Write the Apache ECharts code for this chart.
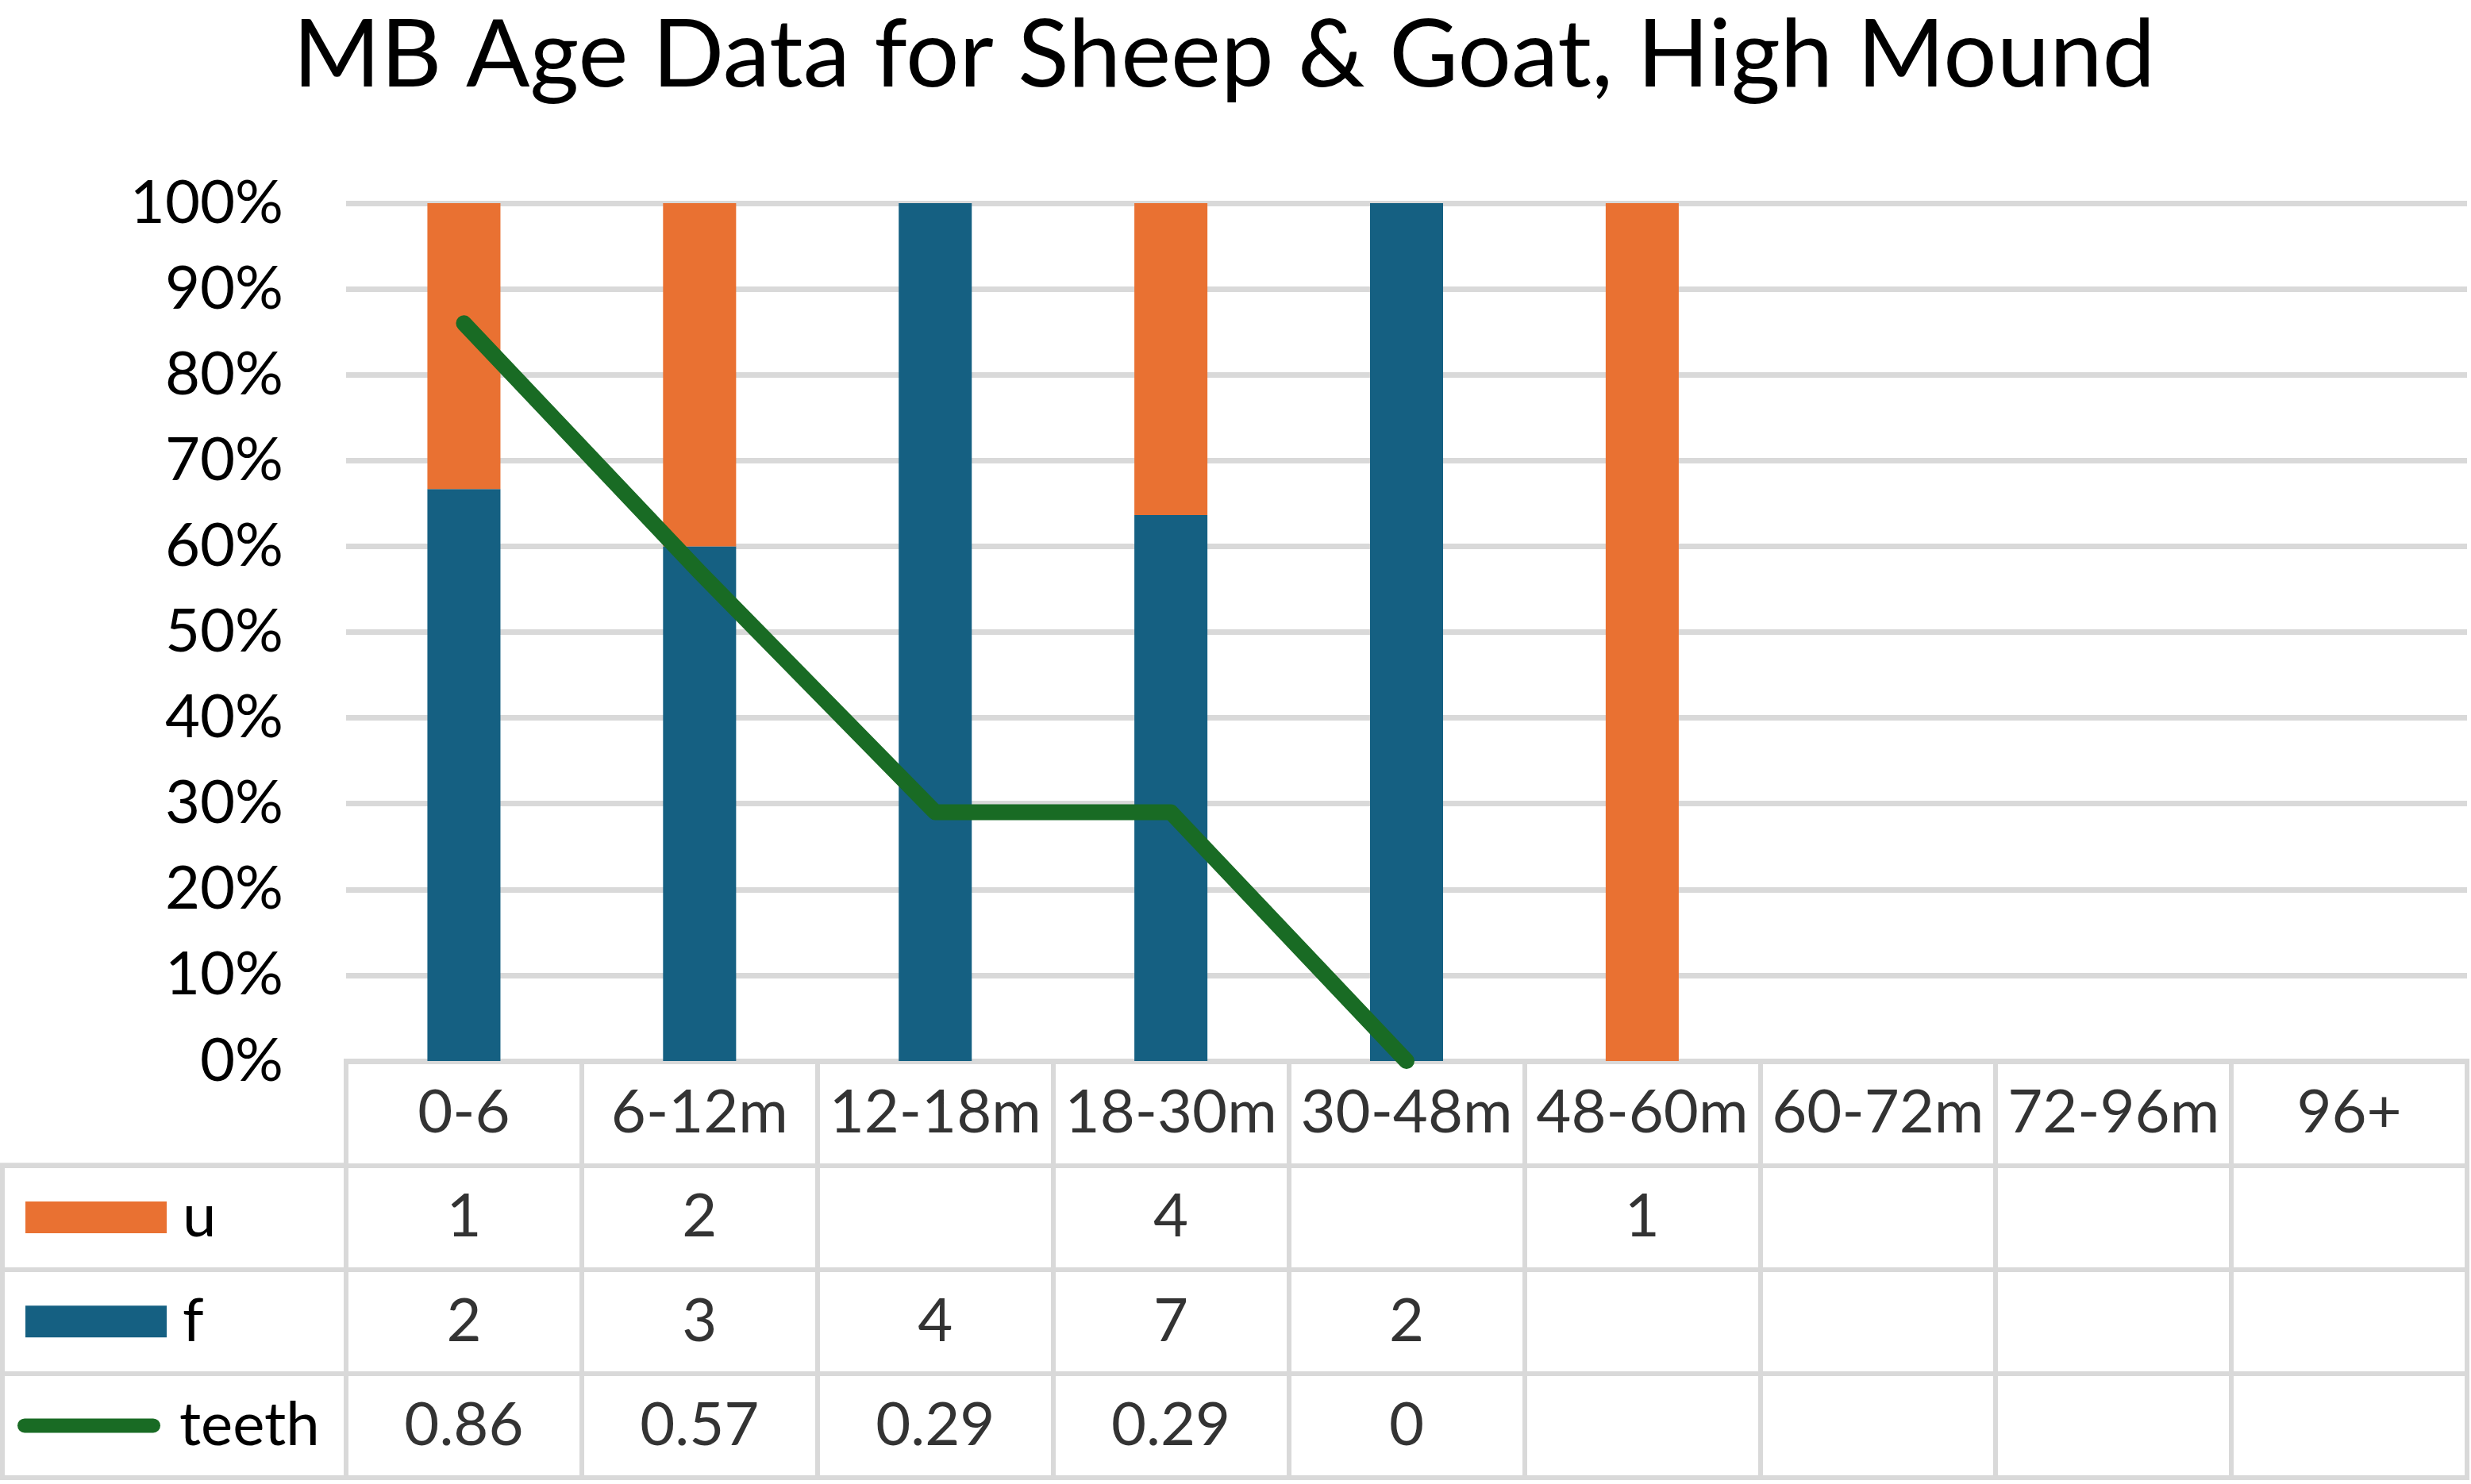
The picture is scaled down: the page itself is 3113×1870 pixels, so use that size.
<!DOCTYPE html>
<html>
<head>
<meta charset="utf-8">
<script src="https://cdn.jsdelivr.net/npm/echarts@6/dist/echarts.min.js"></script>
<style>
  html, body { margin: 0; padding: 0; background: #fff; }
  #chart { width: 3113px; height: 1870px; }
</style>
</head>
<body>
<div id="chart"></div>
<script>
const categories = ['0-6', '6-12m', '12-18m', '18-30m', '30-48m', '48-60m', '60-72m', '72-96m', '96+'];
const uCounts = [1, 2, null, 4, null, 1, null, null, null];
const fCounts = [2, 3, 4, 7, 2, null, null, null, null];
const teeth = [0.86, 0.57, 0.29, 0.29, 0, null, null, null, null];

const ORANGE = '#E97132';
const BLUE = '#156082';
const GREEN = '#196B24';
const GRID_C = '#D9D9D9';
const FONT = 'Lato, "Open Sans", sans-serif';
const FS = 76;

// percent stacked: share of each count in the category total
const total = categories.map((c, i) => (uCounts[i] || 0) + (fCounts[i] || 0));
const uPct = uCounts.map((v, i) => (v == null ? null : v / total[i]));
const fPct = fCounts.map((v, i) => (v == null ? null : v / total[i]));

// table text cells, row y: header 3.5, u 2.5, f 1.5, teeth 0.5
const cells = [];
categories.forEach((c, i) => cells.push([i, 3.5, c]));
[uCounts, fCounts, teeth].forEach((arr, r) => {
  arr.forEach((v, i) => {
    if (v != null) cells.push([i, 2.5 - r, String(v)]);
  });
});

const plotTop = 256, plotBottom = 1337, tableBottom = 1862;
const rowH = (tableBottom - plotBottom) / 4;

const myEchart = echarts.init(document.getElementById('chart'), null, { renderer: 'canvas' });

const legendBase = (name, row, opts) => Object.assign({
  data: [name],
  orient: 'vertical',
  padding: 0,
  top: plotBottom + rowH * (row + 1.5) - 45,
  selectedMode: false
}, opts);

const legendText = pad => ({ fontFamily: FONT, fontSize: FS, color: '#000', lineHeight: 90, padding: [0, 0, 0, pad] });

const options = {
  animation: false,
  backgroundColor: '#fff',
  title: {
    text: 'MB Age Data for Sheep & Goat, High Mound',
    left: 364,
    top: 6,
    textStyle: { fontFamily: FONT, fontSize: 119, fontWeight: 'normal', color: '#000', lineHeight: 119 }
  },
  legend: [
    legendBase('u', 0, { left: 32, itemWidth: 178, itemHeight: 40, icon: 'rect', textStyle: legendText(15) }),
    legendBase('f', 1, { left: 32, itemWidth: 178, itemHeight: 40, icon: 'rect', textStyle: legendText(15) }),
    legendBase('teeth', 2, { left: 22, itemWidth: 198, itemHeight: 18,
      icon: 'path://M10,0 L190,0 A10,10 0 0 1 190,20 L10,20 A10,10 0 0 1 10,0 Z',
      textStyle: legendText(10) })
  ],
  grid: [
    // chart plot area
    { left: 436, right: 5, top: plotTop, bottom: 1870 - plotBottom },
    // data table (values part)
    { left: 436, right: 5, top: plotBottom, bottom: 1870 - tableBottom,
      show: true, borderColor: GRID_C, borderWidth: 6 },
    // legend column of the table
    { left: 3, width: 433, top: plotBottom + rowH, bottom: 1870 - tableBottom,
      show: true, borderColor: GRID_C, borderWidth: 6 }
  ],
  xAxis: [
    { gridIndex: 0, type: 'category', data: categories,
      axisLine: { show: false }, axisTick: { show: false }, axisLabel: { show: false } },
    { gridIndex: 1, type: 'category', data: categories,
      axisLine: { show: false }, axisTick: { show: false }, axisLabel: { show: false },
      splitLine: { show: true, lineStyle: { color: GRID_C, width: 6 } } },
    { gridIndex: 2, type: 'value', min: 0, max: 1,
      axisLine: { show: false }, axisTick: { show: false }, axisLabel: { show: false }, splitLine: { show: false } }
  ],
  yAxis: [
    { gridIndex: 0, type: 'value', min: 0, max: 1, interval: 0.1,
      axisLine: { show: false }, axisTick: { show: false },
      axisLabel: { margin: 79, fontFamily: FONT, fontSize: FS, color: '#000',
        formatter: v => Math.round(v * 100) + '%' },
      splitLine: { show: true, lineStyle: { color: GRID_C, width: 7 } } },
    { gridIndex: 1, type: 'value', min: 0, max: 4, interval: 1,
      axisLine: { show: false }, axisTick: { show: false }, axisLabel: { show: false },
      splitLine: { show: true, lineStyle: { color: GRID_C, width: 6 } } },
    { gridIndex: 2, type: 'value', min: 0, max: 3, interval: 1,
      axisLine: { show: false }, axisTick: { show: false }, axisLabel: { show: false },
      splitLine: { show: true, lineStyle: { color: GRID_C, width: 6 } } }
  ],
  series: [
    { name: 'f', type: 'bar', stack: 'pct', data: fPct, barWidth: '31%',
      itemStyle: { color: BLUE } },
    { name: 'u', type: 'bar', stack: 'pct', data: uPct, barWidth: '31%',
      itemStyle: { color: ORANGE } },
    { name: 'teeth', type: 'line', data: teeth, symbol: 'none', z: 5,
      itemStyle: { color: GREEN },
      lineStyle: { color: GREEN, width: 20, cap: 'round', join: 'round' } },
    { name: 'table', type: 'scatter', xAxisIndex: 1, yAxisIndex: 1, data: cells,
      symbolSize: 1, silent: true, itemStyle: { color: 'rgba(0,0,0,0)' },
      label: { show: true, position: 'inside', formatter: p => p.value[2],
        fontFamily: FONT, fontSize: FS, color: '#000' } }
  ]
};

myEchart.setOption(options);
</script>
</body>
</html>
